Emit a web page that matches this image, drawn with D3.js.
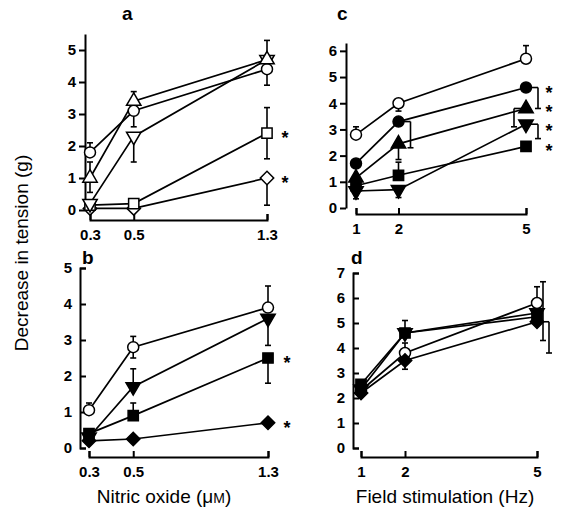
<!DOCTYPE html>

<head>
  <meta charset="utf-8">
  <script src="https://d3js.org/d3.v7.min.js"></script>
  <style>
    body {
      margin: 0;
      background-color: #fff;
    }

    text {
      font-family: "Liberation Sans", Arial, sans-serif;
      fill: #000;
    }

    .tick text {
      font-weight: bold;
      font-size: 15px;
    }

    .domain,
    .tick line {
      stroke: #000;
      stroke-width: 2;
    }
  </style>
</head>

<body>
  <div id="graph"></div>
  <script>
    var width = 566;
    var height = 515;

    // x values
    var noDose = [0.3, 0.5, 1.3];
    var stimFreq = [1, 2, 5];

    // y tick labels
    var ticksA = [0, 1, 2, 3, 4, 5];
    var ticksB = [0, 1, 2, 3, 4, 5];
    var ticksC = [0, 1, 2, 3, 4, 5, 6];
    var ticksD = [0, 1, 2, 3, 4, 5, 6, 7];

    // panel a (nitric oxide, open symbols)
    var aCircle = [1.8, 3.1, 4.4];
    var aTriUp = [1.0, 3.4, 4.7];
    var aTriDown = [0.2, 2.3, 4.7];
    var aSquare = [0.15, 0.2, 2.4];
    var aDiamond = [0.05, 0.05, 1.0];
    // error bars: [down, up, side]
    var aCircleErr = [[0, 0.3, 0], [0.5, 0, 0], [0.5, 0, 0]];
    var aTriUpErr = [[0.45, 0.5, 0], [0, 0.3, 0], [0, 0.6, 0]];
    var aTriDownErr = [[0, 0, 0], [0.8, 0, 0], [0, 0, 0]];
    var aSquareErr = [[0, 0, 0], [0, 0, 0], [0.8, 0.8, 0]];
    var aDiamondErr = [[0, 0, 0], [0, 0, 0], [0.85, 0, 0]];

    // panel b (nitric oxide, filled symbols)
    var bCircle = [1.05, 2.8, 3.9];
    var bTriDown = [0.3, 1.7, 3.6];
    var bSquare = [0.4, 0.9, 2.5];
    var bDiamond = [0.2, 0.25, 0.7];
    var bCircleErr = [[0, 0.2, 0], [0.3, 0.3, 0], [0, 0.6, 0]];
    var bTriDownErr = [[0, 0, 0], [0, 0.5, 0], [0.75, 0, 0]];
    var bSquareErr = [[0, 0, 0], [0, 0.35, 0], [0.7, 0, 0]];
    var bDiamondErr = [[0, 0, 0], [0, 0, 0], [0, 0, 0]];

    // panel c (field stimulation)
    var cOpenCircle = [2.8, 4.0, 5.7];
    var cCircle = [1.7, 3.3, 4.6];
    var cTriUp = [1.15, 2.45, 3.8];
    var cTriDown = [0.65, 0.7, 3.2];
    var cSquare = [0.85, 1.25, 2.35];
    var cOpenCircleErr = [[0, 0.3, 0], [0.3, 0, 0], [0, 0.5, 0]];
    var cCircleErr = [[0, 0, 0], [1.0, 0, 2], [0.8, 0, 2]];
    var cTriUpErr = [[0, 0, 0], [0.6, 0, 0], [0.7, 0, -2]];
    var cTriDownErr = [[0.3, 0, 0], [0.3, 0, 0], [0.55, 0, 2]];
    var cSquareErr = [[0, 0, 0], [0, 0.5, 0], [0, 0, 0]];

    // panel d (field stimulation)
    var dOpenCircle = [2.3, 3.8, 5.8];
    var dTriDown = [2.35, 4.6, 5.4];
    var dSquare = [2.55, 4.6, 5.25];
    var dDiamond = [2.2, 3.5, 5.05];
    var dOpenCircleErr = [[0, 0, 0], [0, 0.4, 0], [0, 0.65, 0]];
    var dTriDownErr = [[0, 0, 0], [0, 0, 0], [1.1, 1.25, 1]];
    var dSquareErr = [[0, 0, 0], [0, 0.5, 0], [0, 0, 0]];
    var dDiamondErr = [[0, 0, 0], [0.35, 0, 0], [1.25, 0, 2]];

    var svg = d3.select("#graph").append("svg")
      .attr("width", width)
      .attr("height", height);

    svg.append("rect").attr("width", width).attr("height", height).attr("fill", "#fff");

    var symbolType = {
      circle: [d3.symbolCircle, 95, 0],
      triUp: [d3.symbolTriangle, 90, 0],
      triDown: [d3.symbolTriangle, 90, 180],
      square: [d3.symbolSquare, 105, 0],
      diamond: [d3.symbolSquare, 90, 45]
    };

    function drawPanel(p) {
      var g = svg.append("g");

      // axes
      g.append("g")
        .attr("transform", "translate(0," + p.xAxisY + ")")
        .call(d3.axisBottom(p.x).tickValues(p.xv)
          .tickSizeInner(-6).tickSizeOuter(-6).tickPadding(9)
          .tickFormat(p.xFormat));

      var yAxis = d3.axisLeft(p.y).tickValues(p.yTicks).tickFormat(d3.format("d"));
      if (p.inward) yAxis.tickSizeInner(-6).tickSizeOuter(-6).tickPadding(8);
      else yAxis.tickSizeInner(6).tickSizeOuter(0).tickPadding(3);
      g.append("g")
        .attr("transform", "translate(" + p.yAxisX + ",0)")
        .call(yAxis);

      g.selectAll(".domain").attr("fill", "none");

      var line = d3.line()
        .x((d, i) => p.x(p.xv[i]))
        .y(d => p.y(d));

      p.series.forEach(s => {
        g.append("path")
          .attr("d", line(s.v))
          .attr("fill", "none")
          .attr("stroke", "#000")
          .attr("stroke-width", 1.7);
      });

      // error bars
      p.series.forEach(s => {
        s.err.forEach((e, i) => {
          var px = p.x(p.xv[i]);
          var py = p.y(s.v[i]);
          var cx = px + e[2] * 6;
          if (e[0] == 0 && e[1] == 0) return;
          if (e[2] != 0) {
            g.append("line").attr("x1", px).attr("x2", cx)
              .attr("y1", py).attr("y2", py)
              .attr("stroke", "#000").attr("stroke-width", 1.6);
          }
          [s.v[i] - e[0], s.v[i] + e[1]].forEach(end => {
            if (end == s.v[i]) return;
            var ey = p.y(end);
            g.append("line").attr("x1", cx).attr("x2", cx)
              .attr("y1", py).attr("y2", ey)
              .attr("stroke", "#000").attr("stroke-width", 1.6);
            g.append("line").attr("x1", cx - 3).attr("x2", cx + 3)
              .attr("y1", ey).attr("y2", ey)
              .attr("stroke", "#000").attr("stroke-width", 1.6);
          });
        });
      });

      // markers
      var stars = [];
      p.series.forEach(s => {
        var t = symbolType[s.shape];
        g.selectAll(null).data(s.v).enter()
          .append("path")
          .attr("d", d3.symbol().type(t[0]).size(t[1]))
          .attr("transform", (d, i) => "translate(" + p.x(p.xv[i]) + "," + p.y(d) + ") rotate(" + t[2] + ")")
          .attr("fill", s.open ? "#fff" : "#000")
          .attr("stroke", "#000")
          .attr("stroke-width", 1.5);
        if (s.star) stars.push(p.y(s.v[s.v.length - 1]));
      });

      // significance asterisks, spread apart so they do not collide
      stars.sort((a, b) => a - b);
      for (var i = 1; i < stars.length; i++) {
        if (stars[i] - stars[i - 1] < 19) {
          var mid = (stars[i] + stars[i - 1]) / 2;
          stars[i - 1] = mid - 9.5;
          stars[i] = mid + 9.5;
        }
      }
      g.selectAll(null).data(stars).enter()
        .append("text")
        .attr("x", p.starX)
        .attr("y", d => d + 11)
        .attr("text-anchor", "middle")
        .attr("font-size", 18)
        .attr("font-weight", "bold")
        .text("*");

      g.append("text")
        .attr("x", p.letter[1])
        .attr("y", p.letter[2])
        .attr("font-size", 19)
        .attr("font-weight", "bold")
        .text(p.letter[0]);
    }

    var fmt1 = d3.format(".1f");
    var fmt0 = d3.format("d");

    drawPanel({
      xv: noDose,
      x: d3.scalePow().exponent(0.65).domain([0.3, 1.3]).range([90, 267]),
      y: d3.scaleLinear().domain([0, 5.5]).range([210, 34]),
      yTicks: ticksA, xAxisY: 220, yAxisX: 85, inward: false, xFormat: fmt1, starX: 285,
      letter: ["a", 122, 20],
      series: [
        { v: aDiamond, err: aDiamondErr, shape: "diamond", open: true, star: true },
        { v: aSquare, err: aSquareErr, shape: "square", open: true, star: true },
        { v: aTriDown, err: aTriDownErr, shape: "triDown", open: true },
        { v: aCircle, err: aCircleErr, shape: "circle", open: true },
        { v: aTriUp, err: aTriUpErr, shape: "triUp", open: true }
      ]
    });

    drawPanel({
      xv: noDose,
      x: d3.scalePow().exponent(0.65).domain([0.3, 1.3]).range([89, 268]),
      y: d3.scaleLinear().domain([0, 5]).range([448, 268]),
      yTicks: ticksB, xAxisY: 457, yAxisX: 80, inward: true, xFormat: fmt1, starX: 287,
      letter: ["b", 82, 264],
      series: [
        { v: bDiamond, err: bDiamondErr, shape: "diamond", open: false, star: true },
        { v: bSquare, err: bSquareErr, shape: "square", open: false, star: true },
        { v: bTriDown, err: bTriDownErr, shape: "triDown", open: false },
        { v: bCircle, err: bCircleErr, shape: "circle", open: true }
      ]
    });

    drawPanel({
      xv: stimFreq,
      x: d3.scaleLinear().domain([1, 5]).range([356, 526]),
      y: d3.scaleLinear().domain([0, 6.3]).range([208, 43]),
      yTicks: ticksC, xAxisY: 214, yAxisX: 346, inward: false, xFormat: fmt0, starX: 549,
      letter: ["c", 337, 20],
      series: [
        { v: cSquare, err: cSquareErr, shape: "square", open: false, star: true },
        { v: cTriDown, err: cTriDownErr, shape: "triDown", open: false, star: true },
        { v: cTriUp, err: cTriUpErr, shape: "triUp", open: false, star: true },
        { v: cCircle, err: cCircleErr, shape: "circle", open: false, star: true },
        { v: cOpenCircle, err: cOpenCircleErr, shape: "circle", open: true }
      ]
    });

    drawPanel({
      xv: stimFreq,
      x: d3.scaleLinear().domain([1, 5]).range([361, 537]),
      y: d3.scaleLinear().domain([0, 7]).range([448, 273]),
      yTicks: ticksD, xAxisY: 457, yAxisX: 353, inward: true, xFormat: fmt0, starX: 0,
      letter: ["d", 351, 264],
      series: [
        { v: dOpenCircle, err: dOpenCircleErr, shape: "circle", open: true },
        { v: dDiamond, err: dDiamondErr, shape: "diamond", open: false },
        { v: dTriDown, err: dTriDownErr, shape: "triDown", open: false },
        { v: dSquare, err: dSquareErr, shape: "square", open: false }
      ]
    });

    // axis titles
    svg.append("text")
      .attr("transform", "translate(28,253) rotate(-90)")
      .attr("text-anchor", "middle")
      .attr("font-size", 19)
      .text("Decrease in tension (g)");

    var t1 = svg.append("text")
      .attr("x", 164)
      .attr("y", 503)
      .attr("text-anchor", "middle")
      .attr("font-size", 19)
      .text("Nitric oxide (\u03bc");
    t1.append("tspan").attr("font-size", 14).text("M");
    t1.append("tspan").text(")");

    svg.append("text")
      .attr("x", 445)
      .attr("y", 503)
      .attr("text-anchor", "middle")
      .attr("font-size", 19)
      .text("Field stimulation (Hz)");
  </script>
</body>
